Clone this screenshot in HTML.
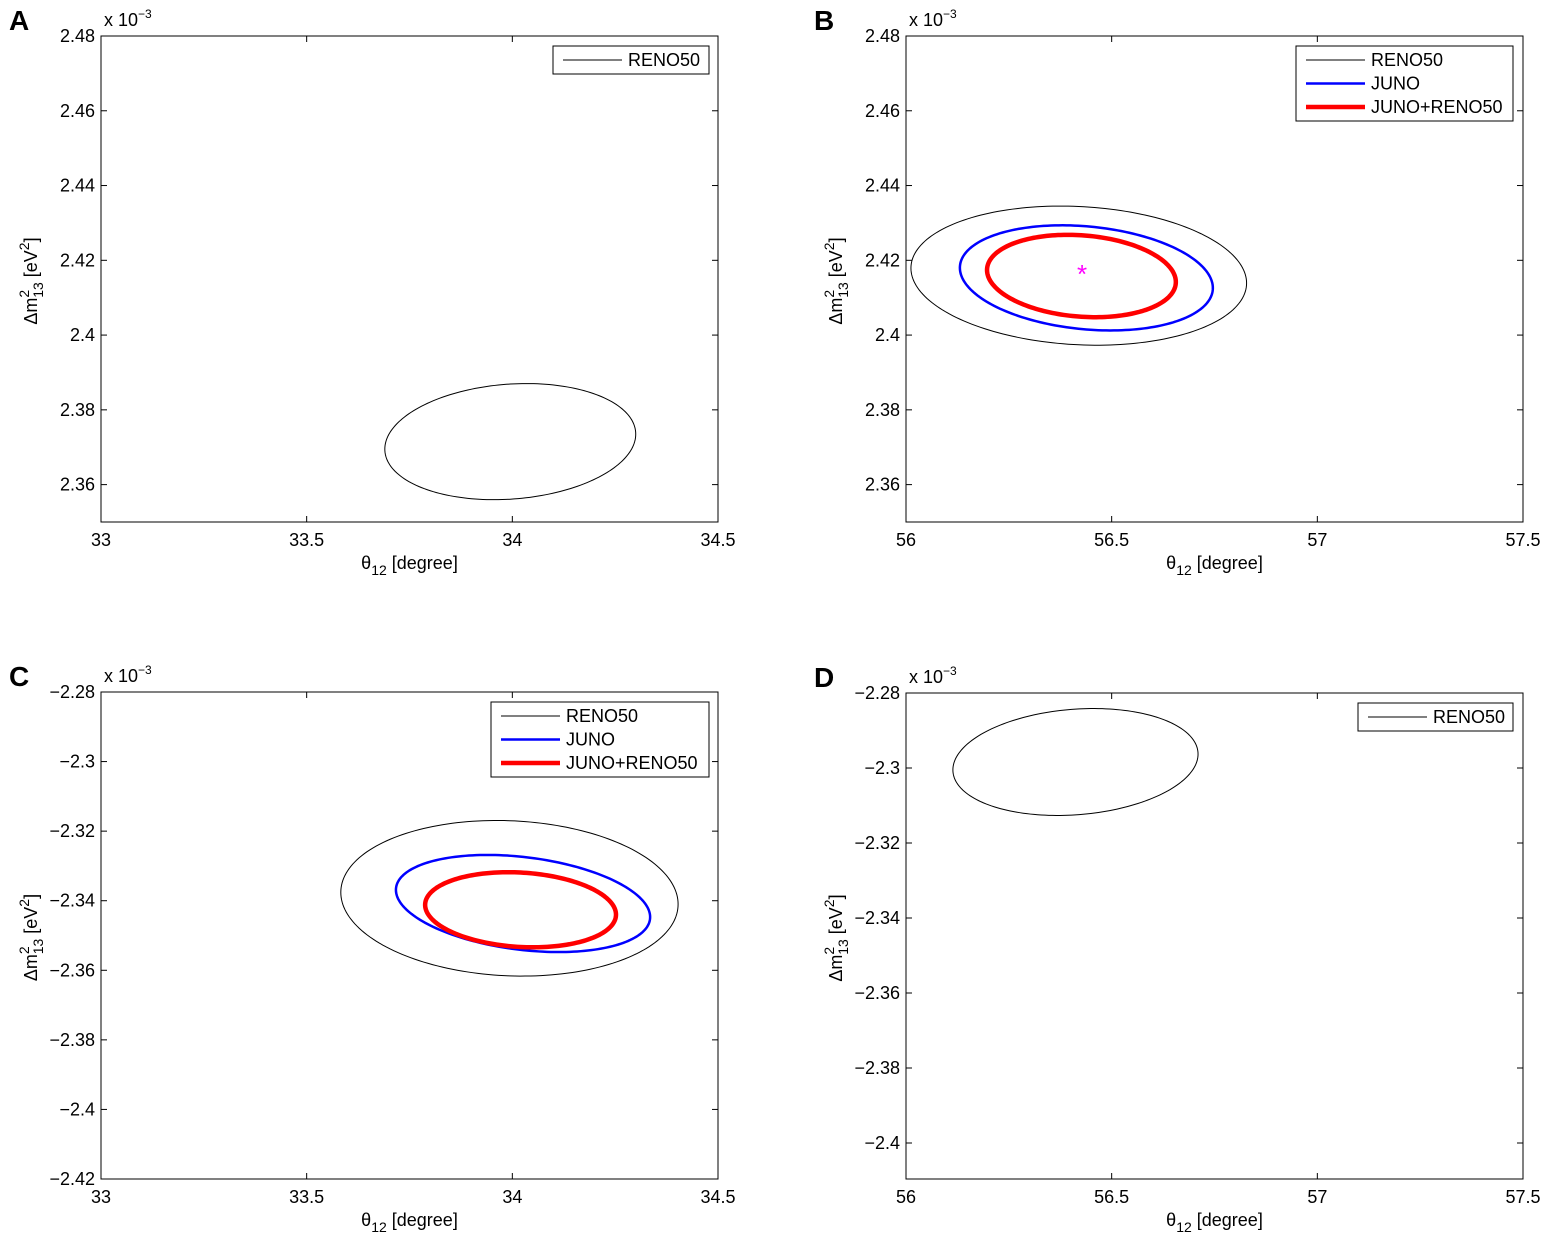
<!DOCTYPE html>
<html><head><meta charset="utf-8"><style>
html,body{margin:0;padding:0;background:#fff;}
svg{display:block;font-family:"Liberation Sans",Arial,sans-serif;}
</style></head><body>
<svg id="fig" width="1547" height="1241" viewBox="0 0 1547 1241"></svg>
<script>
const panelLetters = ['A','B','C','D'];
const xRanges = [[33,34.5],[56,57.5],[33,34.5],[56,57.5]];
const yRanges = [[2.35,2.48],[2.35,2.48],[-2.42,-2.28],[-2.4096,-2.28]];
const xTicksA = [33,33.5,34,34.5];
const xTicksB = [56,56.5,57,57.5];
const yTicksAB = [2.36,2.38,2.4,2.42,2.44,2.46,2.48];
const yTicksC = [-2.42,-2.4,-2.38,-2.36,-2.34,-2.32,-2.3,-2.28];
const yTicksD = [-2.4,-2.38,-2.36,-2.34,-2.32,-2.3,-2.28];
const yTickLabelsAB = ['2.36','2.38','2.4','2.42','2.44','2.46','2.48'];
const yTickLabelsC = ['\u22122.42','\u22122.4','\u22122.38','\u22122.36','\u22122.34','\u22122.32','\u22122.3','\u22122.28'];
const yTickLabelsD = ['\u22122.4','\u22122.38','\u22122.36','\u22122.34','\u22122.32','\u22122.3','\u22122.28'];
const contourPanels = [0,1,1,1,2,2,2,3];
const contourSeries = ['RENO50','RENO50','JUNO','JUNO+RENO50','RENO50','JUNO','JUNO+RENO50','RENO50'];
const contourCx = [33.995,56.42,56.4385,56.4265,33.993,34.026,34.02,56.412];
const contourCy = [2.3715,2.4159,2.4153,2.4158,-2.3393,-2.3408,-2.3426,-2.2984];
const contourA = [0.305,0.408,0.3075,0.2295,0.41,0.309,0.232,0.298];
const contourB = [0.0154,0.0185,0.0138,0.0109,0.0223,0.0134,0.0107,0.0141];
const contourS = [0.002,-0.002,-0.0027,-0.0016,-0.0017,-0.0039,-0.0014,0.0021];
const bestFit = [56.428,2.4171];

const boxes = [[101,36,718,522],[906,36,1523,522],[101,692,718,1179],[906,693,1523,1179]];
const styles = {'RENO50':['#000',1],'JUNO':['#0000ff',2.5],'JUNO+RENO50':['#ff0000',4.5]};
const legends = [['RENO50'],['RENO50','JUNO','JUNO+RENO50'],['RENO50','JUNO','JUNO+RENO50'],['RENO50']];
const legendBoxes = [[553,46,709,74],[1296,46,1513,121],[491,702,709,777],[1358,703,1513,731]];

const svg = document.getElementById('fig');
const NS = 'http://www.w3.org/2000/svg';
function mk(tag, attrs, parent){const e=document.createElementNS(NS,tag);for(const k in attrs)e.setAttribute(k,attrs[k]);(parent||svg).appendChild(e);return e;}
function sx(p,v){const b=boxes[p],r=xRanges[p];return b[0]+(v-r[0])/(r[1]-r[0])*(b[2]-b[0]);}
function sy(p,v){const b=boxes[p],r=yRanges[p];return b[3]-(v-r[0])/(r[1]-r[0])*(b[3]-b[1]);}

for(let p=0;p<4;p++){
  const b=boxes[p];
  const g=mk('g',{});
  
  
  const lt=mk('text',{x:b[0]-92,y:b[1]-6,'font-size':28,'font-weight':'bold'},g);
  lt.textContent=panelLetters[p];
  
  
  const fr=mk('rect',{x:b[0],y:b[1],width:b[2]-b[0],height:b[3]-b[1],fill:'none',stroke:'#000','stroke-width':1},g);
  
  
  const xt=(p%2===0)?xTicksA:xTicksB;
  xt.forEach(v=>{const x=sx(p,v);
    mk('line',{x1:x,y1:b[3],x2:x,y2:b[3]-6,stroke:'#000'},g);
    mk('line',{x1:x,y1:b[1],x2:x,y2:b[1]+6,stroke:'#000'},g);
    const t=mk('text',{x:x,y:b[3]+24,'font-size':18,'text-anchor':'middle'},g);t.textContent=String(v);
    
    });
  const yt=p<2?yTicksAB:(p===2?yTicksC:yTicksD);
  const yl=p<2?yTickLabelsAB:(p===2?yTickLabelsC:yTickLabelsD);
  yt.forEach((v,i)=>{const y=sy(p,v);
    mk('line',{x1:b[0],y1:y,x2:b[0]+6,y2:y,stroke:'#000'},g);
    mk('line',{x1:b[2],y1:y,x2:b[2]-6,y2:y,stroke:'#000'},g);
    const t=mk('text',{x:b[0]-6,y:y+6,'font-size':18,'text-anchor':'end'},g);t.textContent=yl[i];
    
    });
  const ex=mk('text',{x:b[0]+3,y:b[1]-10,'font-size':18},g);
  ex.innerHTML='x 10<tspan dy="-8" font-size="12">\u22123</tspan>';
  
  
  const xc=(b[0]+b[2])/2;
  const xtt=mk('text',{x:xc,y:b[3]+47,'font-size':18,'text-anchor':'middle'},g);
  xtt.innerHTML='\u03b8<tspan dy="6" font-size="14">12</tspan><tspan dy="-6"> [degree]</tspan>';
  
  
  const yc=(b[1]+b[3])/2;
  const ytt=mk('text',{x:0,y:0,'font-size':18,'text-anchor':'middle',transform:'translate('+(b[0]-64)+','+(yc+2)+') rotate(-90)'},g);
  ytt.innerHTML='\u0394m<tspan dy="-8" font-size="14">2</tspan><tspan dx="-8" dy="14" font-size="14">13</tspan><tspan dy="-6"> [eV</tspan><tspan dy="-8" font-size="14">2</tspan><tspan dy="8">]</tspan>';
  
  
}
for(let i=0;i<contourCx.length;i++){
  const p=contourPanels[i];let d='';
  for(let k=0;k<=200;k++){const t=k/200*2*Math.PI;
    const X=sx(p,contourCx[i]+contourA[i]*Math.cos(t));
    const Y=sy(p,contourCy[i]+contourB[i]*Math.sin(t)+contourS[i]*Math.cos(t));
    d+=(k?'L':'M')+X.toFixed(2)+' '+Y.toFixed(2);}
  const st=styles[contourSeries[i]];
  const e=mk('path',{d:d+'Z',fill:'none',stroke:st[0],'stroke-width':st[1]});
  
  
}
const star=mk('text',{x:sx(1,bestFit[0]),y:sy(1,bestFit[1])+12,'font-size':26,fill:'#ff00ff','text-anchor':'middle'});
star.textContent='*';


for(let p=0;p<4;p++){
  const lb=legendBoxes[p];
  const g=mk('g',{});
  
  
  mk('rect',{x:lb[0],y:lb[1],width:lb[2]-lb[0],height:lb[3]-lb[1],fill:'#fff',stroke:'#000'},g);
  legends[p].forEach((s,i)=>{const y=lb[1]+14+i*23.5;const st=styles[s];
    const ln=mk('line',{x1:lb[0]+10,y1:y,x2:lb[0]+69,y2:y,stroke:st[0],'stroke-width':st[1]},g);
    
    
    const t=mk('text',{x:lb[0]+75,y:y+6,'font-size':18},g);t.textContent=s;
    
    });
}
</script>
</body></html>
